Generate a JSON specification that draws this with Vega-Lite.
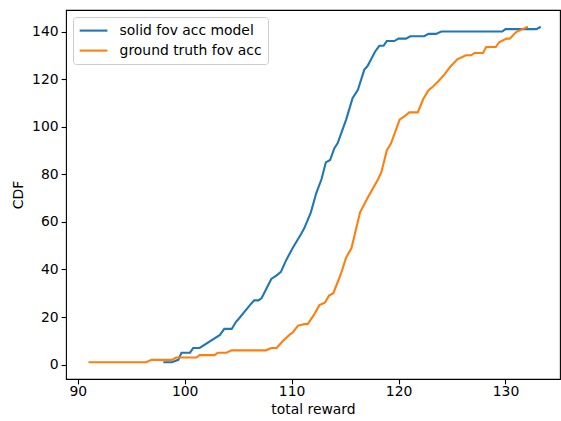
{
  "$schema": "https://vega.github.io/schema/vega-lite/v6.json",
  "autosize": {"type": "none"},
  "width": 494,
  "height": 369,
  "padding": {"left": 66, "top": 10, "right": 1, "bottom": 42},
  "background": "white",
  "config": {
    "font": "DejaVu Sans",
    "view": {"stroke": "#000000", "strokeWidth": 1.1},
    "axis": {
      "grid": false,
      "domain": false,
      "tickColor": "#000000",
      "tickSize": 4.9,
      "tickWidth": 1.1,
      "labelFontSize": 13.9,
      "labelColor": "#000000",
      "titleFontSize": 13.9,
      "titleFontWeight": "normal",
      "titleColor": "#000000"
    },
    "legend": {
      "orient": "none",
      "legendX": 7,
      "legendY": 7,
      "padding": 5.6,
      "strokeColor": "#cccccc",
      "fillColor": "white",
      "cornerRadius": 3,
      "symbolType": "M-1,0H3",
      "symbolStrokeWidth": 2.1,
      "symbolSize": 193,
      "labelFontSize": 13.9,
      "labelColor": "#000000",
      "labelOffset": 25,
      "rowPadding": 5
    }
  },
  "data": {
    "values": [
      {"series": "solid fov acc model", "reward": 98.0, "cdf": 1},
      {"series": "solid fov acc model", "reward": 98.8, "cdf": 1},
      {"series": "solid fov acc model", "reward": 99.4, "cdf": 2},
      {"series": "solid fov acc model", "reward": 99.7, "cdf": 5},
      {"series": "solid fov acc model", "reward": 100.5, "cdf": 5},
      {"series": "solid fov acc model", "reward": 100.8, "cdf": 7},
      {"series": "solid fov acc model", "reward": 101.4, "cdf": 7},
      {"series": "solid fov acc model", "reward": 103.3, "cdf": 12.5},
      {"series": "solid fov acc model", "reward": 103.7, "cdf": 15},
      {"series": "solid fov acc model", "reward": 104.4, "cdf": 15},
      {"series": "solid fov acc model", "reward": 104.8, "cdf": 18},
      {"series": "solid fov acc model", "reward": 105.1, "cdf": 19.5},
      {"series": "solid fov acc model", "reward": 106.1, "cdf": 25},
      {"series": "solid fov acc model", "reward": 106.5, "cdf": 27},
      {"series": "solid fov acc model", "reward": 106.9, "cdf": 27},
      {"series": "solid fov acc model", "reward": 107.2, "cdf": 28},
      {"series": "solid fov acc model", "reward": 108.1, "cdf": 36},
      {"series": "solid fov acc model", "reward": 108.6, "cdf": 37.5},
      {"series": "solid fov acc model", "reward": 109.0, "cdf": 39},
      {"series": "solid fov acc model", "reward": 109.5, "cdf": 44},
      {"series": "solid fov acc model", "reward": 110.1, "cdf": 49},
      {"series": "solid fov acc model", "reward": 110.9, "cdf": 55},
      {"series": "solid fov acc model", "reward": 111.2, "cdf": 57.5},
      {"series": "solid fov acc model", "reward": 111.8, "cdf": 64},
      {"series": "solid fov acc model", "reward": 112.3, "cdf": 72},
      {"series": "solid fov acc model", "reward": 112.8, "cdf": 78},
      {"series": "solid fov acc model", "reward": 113.2, "cdf": 85},
      {"series": "solid fov acc model", "reward": 113.6, "cdf": 86},
      {"series": "solid fov acc model", "reward": 114.0, "cdf": 91},
      {"series": "solid fov acc model", "reward": 114.3, "cdf": 93},
      {"series": "solid fov acc model", "reward": 115.1, "cdf": 103},
      {"series": "solid fov acc model", "reward": 115.7, "cdf": 112},
      {"series": "solid fov acc model", "reward": 116.2, "cdf": 115.5},
      {"series": "solid fov acc model", "reward": 116.8, "cdf": 124},
      {"series": "solid fov acc model", "reward": 117.1, "cdf": 125.5},
      {"series": "solid fov acc model", "reward": 117.8, "cdf": 131.5},
      {"series": "solid fov acc model", "reward": 118.2, "cdf": 134},
      {"series": "solid fov acc model", "reward": 118.6, "cdf": 134},
      {"series": "solid fov acc model", "reward": 118.9, "cdf": 136},
      {"series": "solid fov acc model", "reward": 119.6, "cdf": 136},
      {"series": "solid fov acc model", "reward": 120.0, "cdf": 137},
      {"series": "solid fov acc model", "reward": 120.7, "cdf": 137},
      {"series": "solid fov acc model", "reward": 121.1, "cdf": 138},
      {"series": "solid fov acc model", "reward": 122.4, "cdf": 138},
      {"series": "solid fov acc model", "reward": 122.8, "cdf": 139},
      {"series": "solid fov acc model", "reward": 123.5, "cdf": 139},
      {"series": "solid fov acc model", "reward": 124.0, "cdf": 140},
      {"series": "solid fov acc model", "reward": 129.7, "cdf": 140},
      {"series": "solid fov acc model", "reward": 130.0, "cdf": 141},
      {"series": "solid fov acc model", "reward": 132.9, "cdf": 141},
      {"series": "solid fov acc model", "reward": 133.3, "cdf": 142},
      {"series": "ground truth fov acc", "reward": 91.0, "cdf": 1},
      {"series": "ground truth fov acc", "reward": 96.4, "cdf": 1},
      {"series": "ground truth fov acc", "reward": 96.9, "cdf": 2},
      {"series": "ground truth fov acc", "reward": 98.8, "cdf": 2},
      {"series": "ground truth fov acc", "reward": 99.2, "cdf": 3},
      {"series": "ground truth fov acc", "reward": 101.1, "cdf": 3},
      {"series": "ground truth fov acc", "reward": 101.4, "cdf": 4},
      {"series": "ground truth fov acc", "reward": 102.8, "cdf": 4},
      {"series": "ground truth fov acc", "reward": 103.1, "cdf": 5},
      {"series": "ground truth fov acc", "reward": 103.9, "cdf": 5},
      {"series": "ground truth fov acc", "reward": 104.4, "cdf": 6},
      {"series": "ground truth fov acc", "reward": 107.6, "cdf": 6},
      {"series": "ground truth fov acc", "reward": 108.1, "cdf": 7},
      {"series": "ground truth fov acc", "reward": 108.6, "cdf": 7},
      {"series": "ground truth fov acc", "reward": 109.2, "cdf": 10},
      {"series": "ground truth fov acc", "reward": 109.8, "cdf": 12.5},
      {"series": "ground truth fov acc", "reward": 110.1, "cdf": 13.5},
      {"series": "ground truth fov acc", "reward": 110.6, "cdf": 16.4},
      {"series": "ground truth fov acc", "reward": 111.2, "cdf": 17},
      {"series": "ground truth fov acc", "reward": 111.5, "cdf": 17},
      {"series": "ground truth fov acc", "reward": 112.1, "cdf": 21},
      {"series": "ground truth fov acc", "reward": 112.6, "cdf": 25},
      {"series": "ground truth fov acc", "reward": 113.1, "cdf": 26},
      {"series": "ground truth fov acc", "reward": 113.5, "cdf": 29},
      {"series": "ground truth fov acc", "reward": 113.9, "cdf": 30},
      {"series": "ground truth fov acc", "reward": 114.6, "cdf": 38},
      {"series": "ground truth fov acc", "reward": 115.1, "cdf": 45},
      {"series": "ground truth fov acc", "reward": 115.6, "cdf": 49},
      {"series": "ground truth fov acc", "reward": 116.4, "cdf": 64},
      {"series": "ground truth fov acc", "reward": 117.1, "cdf": 70},
      {"series": "ground truth fov acc", "reward": 117.6, "cdf": 74},
      {"series": "ground truth fov acc", "reward": 118.1, "cdf": 78},
      {"series": "ground truth fov acc", "reward": 118.4, "cdf": 81},
      {"series": "ground truth fov acc", "reward": 118.9, "cdf": 90},
      {"series": "ground truth fov acc", "reward": 119.3, "cdf": 93},
      {"series": "ground truth fov acc", "reward": 120.1, "cdf": 103},
      {"series": "ground truth fov acc", "reward": 120.6, "cdf": 104.5},
      {"series": "ground truth fov acc", "reward": 121.0, "cdf": 106},
      {"series": "ground truth fov acc", "reward": 121.8, "cdf": 106},
      {"series": "ground truth fov acc", "reward": 122.3, "cdf": 111.5},
      {"series": "ground truth fov acc", "reward": 122.8, "cdf": 115.3},
      {"series": "ground truth fov acc", "reward": 123.2, "cdf": 116.8},
      {"series": "ground truth fov acc", "reward": 123.7, "cdf": 119},
      {"series": "ground truth fov acc", "reward": 124.3, "cdf": 122},
      {"series": "ground truth fov acc", "reward": 124.8, "cdf": 125},
      {"series": "ground truth fov acc", "reward": 125.5, "cdf": 128.3},
      {"series": "ground truth fov acc", "reward": 126.3, "cdf": 130},
      {"series": "ground truth fov acc", "reward": 126.8, "cdf": 130},
      {"series": "ground truth fov acc", "reward": 127.1, "cdf": 131},
      {"series": "ground truth fov acc", "reward": 127.9, "cdf": 131},
      {"series": "ground truth fov acc", "reward": 128.2, "cdf": 133.5},
      {"series": "ground truth fov acc", "reward": 129.1, "cdf": 133.5},
      {"series": "ground truth fov acc", "reward": 129.4, "cdf": 135.5},
      {"series": "ground truth fov acc", "reward": 130.1, "cdf": 137},
      {"series": "ground truth fov acc", "reward": 130.4, "cdf": 137},
      {"series": "ground truth fov acc", "reward": 131.0, "cdf": 139.8},
      {"series": "ground truth fov acc", "reward": 131.6, "cdf": 141},
      {"series": "ground truth fov acc", "reward": 132.1, "cdf": 142}
    ]
  },
  "mark": {"type": "line", "strokeWidth": 2.1, "interpolate": "linear"},
  "encoding": {
    "x": {
      "field": "reward",
      "type": "quantitative",
      "title": "total reward",
      "scale": {"domain": [88.9, 135.1], "nice": false, "zero": false},
      "axis": {"values": [90, 100, 110, 120, 130], "labelPadding": 1, "titlePadding": 4}
    },
    "y": {
      "field": "cdf",
      "type": "quantitative",
      "title": "CDF",
      "scale": {"domain": [-6.05, 149.05], "nice": false, "zero": false},
      "axis": {"values": [0, 20, 40, 60, 80, 100, 120, 140], "labelPadding": 3, "titlePadding": 6}
    },
    "color": {
      "field": "series",
      "type": "nominal",
      "sort": ["solid fov acc model", "ground truth fov acc"],
      "scale": {"domain": ["solid fov acc model", "ground truth fov acc"], "range": ["#1f77b4", "#ff7f0e"]},
      "legend": {"title": null}
    }
  }
}
